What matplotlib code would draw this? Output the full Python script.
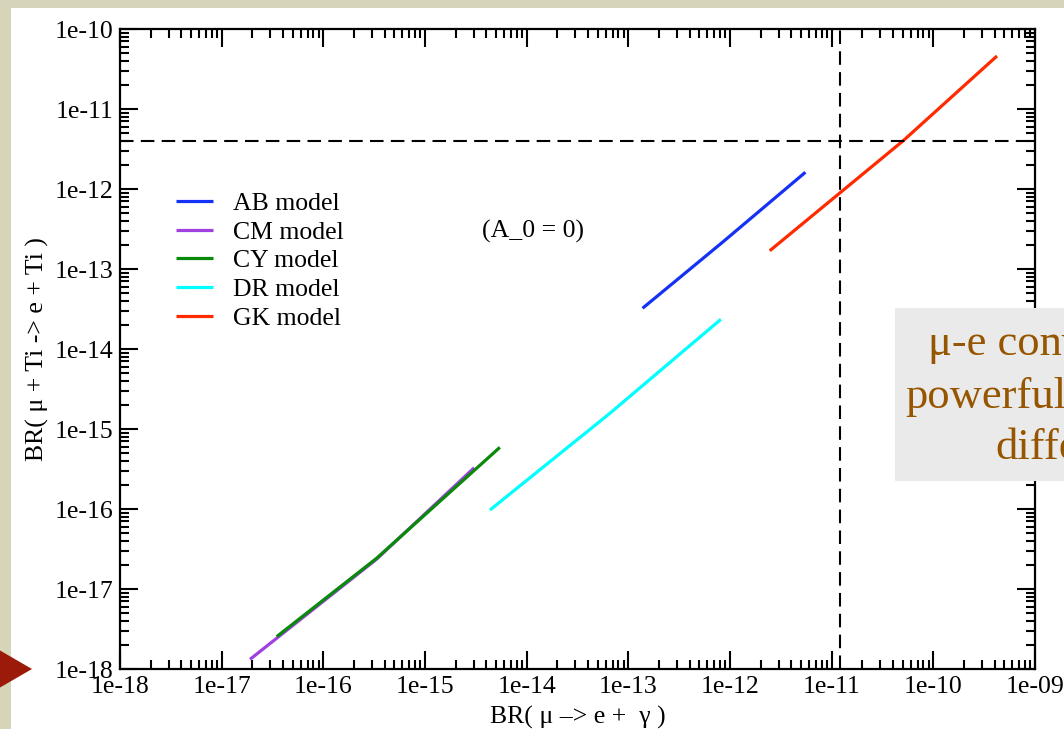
import numpy as np
import matplotlib
matplotlib.use('Agg')
import matplotlib.pyplot as plt
from matplotlib.patches import Rectangle, Polygon
from matplotlib.ticker import LogLocator, FuncFormatter, NullFormatter

plt.rcParams['font.family'] = ['Liberation Serif', 'DejaVu Serif']

# model curves (x = BR(mu->e gamma), y = BR(mu Ti -> e Ti))
ab_x = [1.38e-13, 8.55e-13, 5.52e-12]
ab_y = [3.23e-14, 2.19e-13, 1.62e-12]
cm_x = [1.90e-17, 3.34e-16, 3.05e-15]
cm_y = [1.32e-18, 2.36e-17, 3.28e-16]
cy_x = [3.48e-17, 3.34e-16, 5.45e-15]
cy_y = [2.54e-18, 2.42e-17, 5.90e-16]
dr_x = [4.35e-15, 6.58e-14, 8.13e-13]
dr_y = [9.70e-17, 1.57e-15, 2.35e-14]
gk_x = [2.46e-12, 1.17e-11, 5.04e-11, 4.23e-10]
gk_y = [1.69e-13, 8.66e-13, 4.00e-12, 4.60e-11]

labels = ['AB model', 'CM model', 'CY model', 'DR model', 'GK model']
colors = ['#1432f5', '#a040e0', '#0a8a0a', '#00ffff', '#ff2a00']

meg_limit = 1.2e-11
sindrum_limit = 4.0e-12

W, H = 1064, 729
FS = 18.5
fig = plt.figure(figsize=(W / 100, H / 100), dpi=100, facecolor='#d7d5b9')

# white slide panel
fig.add_artist(Rectangle((11 / W, 0), 1, 1 - 8 / H, transform=fig.transFigure,
                         facecolor='white', edgecolor='none', zorder=-5))

ax = fig.add_axes([120 / W, 1 - 669 / H, 915 / W, 640 / H])
ax.set_xscale('log')
ax.set_yscale('log')

series = [(ab_x, ab_y), (cm_x, cm_y), (cy_x, cy_y), (dr_x, dr_y), (gk_x, gk_y)]
for (xs, ys), lab, c in zip(series, labels, colors):
    ax.plot(xs, ys, color=c, lw=2.3, label=lab, solid_capstyle='butt')

ax.axhline(sindrum_limit, color='black', lw=1.5, dashes=(6.5, 3.5))
ax.axvline(meg_limit, color='black', lw=1.5, dashes=(6.5, 3.5))

ax.set_xlim(1e-18, 1e-9)
ax.set_ylim(1e-18, 1e-10)

fmt = FuncFormatter(lambda v, p: '%.0e' % v)
for axis in (ax.xaxis, ax.yaxis):
    axis.set_major_locator(LogLocator(base=10, numticks=20))
    axis.set_minor_locator(LogLocator(base=10, subs=np.arange(2, 10), numticks=200))
    axis.set_major_formatter(fmt)
    axis.set_minor_formatter(NullFormatter())

ax.tick_params(which='both', direction='in', top=True, right=True, width=1.5, colors='black')
ax.tick_params(which='major', length=13, labelsize=FS, pad=5)
ax.tick_params(which='minor', length=6.5)
ax.tick_params(axis='x', which='major', pad=5)
for s in ax.spines.values():
    s.set_linewidth(1.6)

ax.set_xlabel('BR( μ –> e +  γ )', fontsize=FS, labelpad=6)
ax.set_ylabel('BR( μ + Ti -> e + Ti )', fontsize=FS, labelpad=4)

ax.legend(loc='upper left', bbox_to_anchor=((176 - 120) / 915, (669 - 192) / 640),
          frameon=False, fontsize=FS, borderpad=0, borderaxespad=0,
          handlelength=1.45, handletextpad=0.75, labelspacing=0.22)

ax.text(0.451, (669 - 231) / 640, '(A_0 = 0)', transform=ax.transAxes,
        fontsize=FS, ha='center', va='center')

# overlay box from the slide
fig.add_artist(Rectangle((895 / W, 1 - 481 / H), 0.2, 173 / H, transform=fig.transFigure,
                         facecolor='#eaeaea', edgecolor='none', zorder=5))
box_lines = [('μ-e conversion', 928, 355), ('powerful', 905, 408), ('different', 995, 459)]
for txt, px, py in box_lines:
    fig.text(px / W, 1 - py / H, txt, fontsize=32, color='#965500',
             ha='left', va='baseline', zorder=6)

# red pointer triangle
fig.add_artist(Polygon([(-6 / W, 1 - 647 / H), (32 / W, 1 - 669 / H), (-6 / W, 1 - 691 / H)],
                       closed=True, transform=fig.transFigure, facecolor='#9b1a0a',
                       edgecolor='none', zorder=6))

fig.savefig('out.png', dpi=100, facecolor=fig.get_facecolor())
